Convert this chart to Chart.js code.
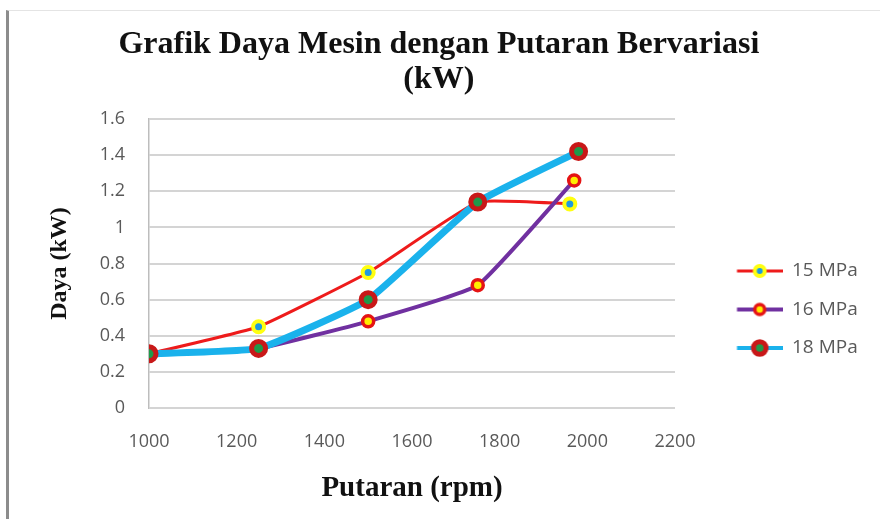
<!DOCTYPE html>
<html><head><meta charset="utf-8">
<script src="https://cdn.jsdelivr.net/npm/chart.js@4.4.1/dist/chart.umd.min.js"></script>
<style>
html,body{margin:0;padding:0;background:#fff;}
#wrap{position:relative;width:880px;height:519px;overflow:hidden;background:#fff;}
#frame{position:absolute;left:6px;top:10px;width:872px;height:520px;border-left:3px solid #8c8c8c;border-top:1px solid #e4e4e4;pointer-events:none;}
canvas{position:absolute;left:0;top:0;}
</style></head><body>
<div id="wrap"><canvas id="c" width="880" height="519"></canvas><div id="frame"></div></div>
<script>
// ---- data ----
const chartTitle = ['Grafik Daya Mesin dengan Putaran Bervariasi', '(kW)'];
const xTitle = 'Putaran (rpm)';
const yTitle = 'Daya (kW)';
const seriesNames = ['15 MPa', '16 MPa', '18 MPa'];
const rpm15 = [1000, 1250, 1500, 1750, 1960];
const daya15 = [0.30, 0.45, 0.75, 1.14, 1.13];
const rpm16 = [1000, 1250, 1500, 1750, 1970];
const daya16 = [0.30, 0.33, 0.48, 0.68, 1.26];
const rpm18 = [1000, 1250, 1500, 1750, 1980];
const daya18 = [0.30, 0.33, 0.60, 1.14, 1.42];
const xTickLabels = ['1000', '1200', '1400', '1600', '1800', '2000', '2200'];
const yTickLabels = ['0', '0.2', '0.4', '0.6', '0.8', '1', '1.2', '1.4', '1.6'];

// ---- styles ----
const styles = [
  {line: '#ee1b1b', lw: 3, fill: '#1e9be0', stroke: '#ffff10', r: 5.5, bw: 4, order: 3},
  {line: '#7030a0', lw: 4, fill: '#ffee00', stroke: '#e51414', r: 5.5, bw: 3.5, order: 2},
  {line: '#1ab2ec', lw: 7, fill: '#1f9a4a', stroke: '#c81818', r: 7, bw: 5, order: 1}
];
const tickFont = {family: '"Open Sans"', size: 18};
const legendFont = {family: '"Open Sans"', size: 19};
const legendPad = 19.5;
const iconW = 88;

function legendIcon(s) {
  const c = document.createElement('canvas');
  c.width = iconW; c.height = 26;
  const g = c.getContext('2d');
  const x0 = 42.5, x1 = iconW, cy = 13;
  g.strokeStyle = s.line; g.lineWidth = Math.min(s.lw, 4);
  g.beginPath(); g.moveTo(x0, cy); g.lineTo(x1, cy); g.stroke();
  g.beginPath(); g.arc((x0 + x1) / 2, cy, s.r * 0.9, 0, Math.PI * 2);
  g.fillStyle = s.fill; g.fill();
  g.lineWidth = s.bw; g.strokeStyle = s.stroke; g.stroke();
  return c;
}
const icons = styles.map(legendIcon);

const mctx = document.createElement('canvas').getContext('2d');
mctx.font = legendFont.size + 'px ' + legendFont.family;
const textW = Math.max(...seriesNames.map(n => mctx.measureText(n).width));
const legendWidth = legendPad + iconW + legendFont.size / 2 + textW + 10;
const padRight = Math.max(0, 880 - 675 - legendWidth);

const series = [[rpm15, daya15], [rpm16, daya16], [rpm18, daya18]];
const datasets = series.map(([xs, ys], k) => ({
  label: seriesNames[k],
  data: xs.map((x, i) => ({x: x, y: ys[i]})),
  borderColor: styles[k].line,
  borderWidth: styles[k].lw,
  backgroundColor: styles[k].fill,
  pointBackgroundColor: styles[k].fill,
  pointBorderColor: styles[k].stroke,
  pointBorderWidth: styles[k].bw,
  pointRadius: styles[k].r,
  tension: 0.12,
  order: styles[k].order,
  fill: false
}));

new Chart(document.getElementById('c'), {
  type: 'line',
  data: {datasets: datasets},
  options: {
    responsive: false,
    animation: false,
    devicePixelRatio: 1,
    events: [],
    layout: {padding: {left: 10, right: padRight, top: 0, bottom: 0}},
    plugins: {
      tooltip: {enabled: false},
      title: {
        display: true, text: chartTitle, color: '#111',
        font: {family: '"Liberation Serif"', size: 32, weight: 'bold', lineHeight: 1.1},
        padding: {top: 27.4, bottom: 21.2}
      },
      legend: {
        display: true, position: 'right', align: 'center',
        title: {display: true, text: ' ', font: {size: 10, lineHeight: 1}, padding: {top: 45, bottom: 45}},
        labels: {
          usePointStyle: true, pointStyleWidth: iconW, padding: legendPad,
          color: '#595959', font: legendFont,
          sort: (a, b) => a.datasetIndex - b.datasetIndex,
          generateLabels: (chart) => {
            const items = Chart.defaults.plugins.legend.labels.generateLabels(chart);
            items.forEach(it => { it.pointStyle = icons[it.datasetIndex]; });
            return items;
          }
        }
      }
    },
    scales: {
      x: {
        type: 'linear', position: 'bottom', min: 1000, max: 2200,
        afterFit: (s) => { s.height = 111; },
        grid: {display: false, drawTicks: false},
        border: {display: false},
        ticks: {stepSize: 200, padding: 23, color: '#595959', font: tickFont,
          callback: (v, i) => xTickLabels[i]},
        title: {display: true, text: xTitle, color: '#111',
          font: {family: '"Liberation Serif"', size: 29, weight: 'bold', lineHeight: 1.2},
          padding: {top: 0, bottom: 13}}
      },
      y: {
        type: 'linear', position: 'left', min: 0, max: 1.6,
        afterFit: (s) => { s.width = 139; },
        grid: {color: '#d4d4d4', lineWidth: 2, drawTicks: false},
        border: {display: true, color: '#bdbdbd', width: 1.5},
        ticks: {stepSize: 0.2, padding: 24, color: '#595959', font: tickFont,
          callback: (v, i) => yTickLabels[i]},
        title: {display: true, text: yTitle, color: '#111',
          font: {family: '"Liberation Serif"', size: 24, weight: 'bold', lineHeight: 1.2},
          padding: {top: 35.6, bottom: 0}}
      }
    }
  }
});
</script>
</body></html>
